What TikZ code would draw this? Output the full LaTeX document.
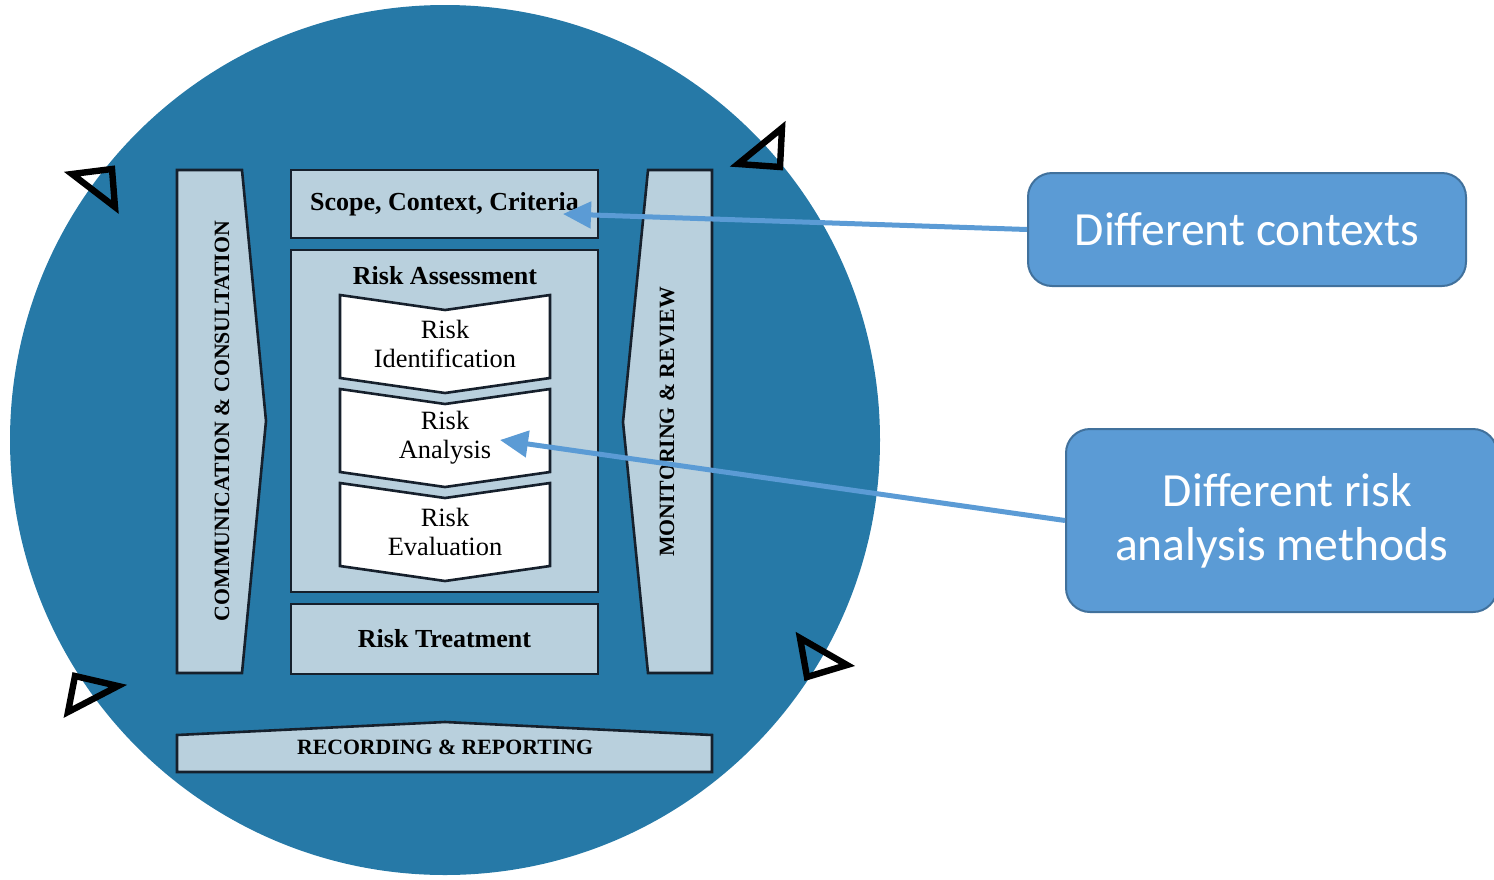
\documentclass[tikz,border=0pt]{standalone}
\usepackage{fontspec}
\setmainfont{Liberation Serif}
\newfontfamily\calloutfont{Carlito}
\usetikzlibrary{arrows.meta}
\definecolor{Disc}{HTML}{2679A7}
\definecolor{Pane}{HTML}{B9D0DD}
\definecolor{Edge}{HTML}{16202C}
\definecolor{Callout}{HTML}{5B9BD5}
\definecolor{CalloutEdge}{HTML}{41719C}
\tikzset{
  pane/.style={draw=Edge,fill=Pane,line width=1.3pt},
  chev/.style={draw=Edge,fill=white,line width=1.3pt},
  headtxt/.style={font=\fontsize{13}{15}\selectfont\bfseries},
  capstxt/.style={font=\fontsize{10.9}{12}\selectfont\bfseries},
  steptxt/.style={align=center,font=\fontsize{13.2}{14.5}\selectfont},
  callout/.style={draw=CalloutEdge,fill=Callout,line width=1pt,
    rounded corners=12pt,text=white,align=center,
    font=\calloutfont\fontsize{23.8}{29}\selectfont},
  pointer/.style={Callout,line width=2.5pt,
    -{Triangle[length=14pt,width=13pt]}},
  turn/.style={draw=black,line width=3.2pt,line join=miter}
}

\begin{document}
\begin{tikzpicture}[x=0.5pt,y=-0.5pt]
  \useasboundingbox (0,0) rectangle (1494,879);
  % the cycle disc
  \fill[Disc] (445,440) circle[radius=217.5pt];
  \foreach \p/\q/\r in {{(72,174)/(112,169)/(115,207)},
                        {(738,164)/(782,128)/(780,167)},
                        {(800,638)/(847,665)/(807,677)},
                        {(75,676)/(118,686)/(68,712)}} {
    \draw[turn] \p -- \q -- \r -- cycle;
  }
  % side and bottom bands
  \draw[pane] (177,170) -- (242,170) -- (266,421) -- (242,673)
              -- (177,673) -- cycle;
  \node[capstxt,rotate=90] (comm) at (222,421)
        {COMMUNICATION \& CONSULTATION};
  \draw[pane] (648,170) -- (712,170) -- (712,673) -- (648,673)
              -- (623,422) -- cycle;
  \node[capstxt,rotate=90] (monit) at (667,422) {MONITORING \& REVIEW};
  \draw[pane] (177,772) -- (177,735) -- (445,722) -- (712,735)
              -- (712,772) -- cycle;
  \node[capstxt] (record) at (445,747) {RECORDING \& REPORTING};
  % middle column
  \node[pane,headtxt,minimum width=153.5pt,minimum height=34pt]
        (scope) at (444.5,204) {Scope, Context, Criteria};
  \draw[pane] (291,250) rectangle (598,592);
  \node[headtxt] (assess) at (445,276) {Risk Assessment};
  \foreach \y/\nm/\txt in {295/ident/{Risk\\Identification},
                           389/analysis/{Risk\\Analysis},
                           483/evaluate/{Risk\\Evaluation}} {
    \draw[chev] (340,\y) -- (445,\y+15) -- (550,\y) -- (550,\y+83)
                -- (445,\y+98) -- (340,\y+83) -- cycle;
    \node[steptxt] (\nm) at (445,\y+49) {\txt};
  }
  \node[pane,headtxt,minimum width=153.5pt,minimum height=35pt]
        (treat) at (444.5,639) {Risk Treatment};
  % callouts
  \node[callout,minimum width=219pt,minimum height=56.5pt]
        (contexts) at (1247,229.5) {Different contexts};
  \node[callout,minimum width=215.5pt,minimum height=91.5pt]
        (methods) at (1281.5,520.5)
        {\raisebox{-2pt}{\hspace*{6pt}Different risk}\\analysis methods};
  \coordinate (ctxtip) at (563,214);
  \coordinate (anatip) at (500,440);
  \draw[pointer] (contexts.west) -- (ctxtip);
  \draw[pointer] (methods.west) -- (anatip);
\end{tikzpicture}
\end{document}
